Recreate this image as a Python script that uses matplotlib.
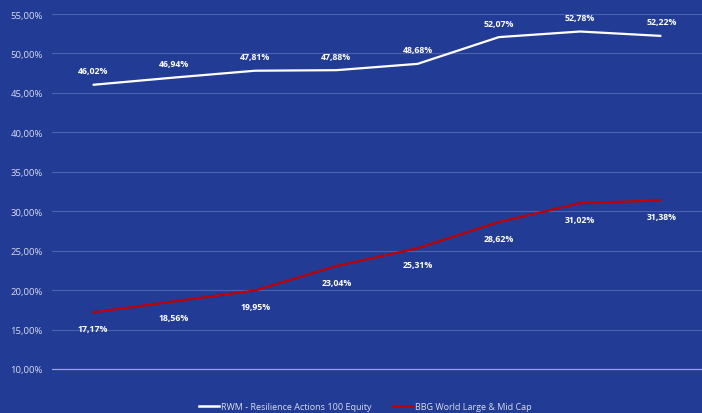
import matplotlib
matplotlib.use("Agg")
import matplotlib.pyplot as plt
from matplotlib.ticker import FuncFormatter, MultipleLocator
from matplotlib.lines import Line2D

categories = ["1", "2", "3", "4", "5", "6", "7", "8"]
rwm = [46.02, 46.94, 47.81, 47.88, 48.68, 52.07, 52.78, 52.22]
bbg = [17.17, 18.56, 19.95, 23.04, 25.31, 28.62, 31.02, 31.38]
series_names = ["RWM - Resilience Actions 100 Equity", "BBG World Large & Mid Cap"]

BG = "#223b95"
FONT = ["Liberation Sans Narrow", "Open Sans", "DejaVu Sans"]
plt.rcParams['font.family'] = FONT

fig = plt.figure(figsize=(7.02, 4.14), dpi=100, facecolor=BG)
ax = fig.add_axes([52/702, 44/414, 650/702, 355/414], facecolor=BG)

x = list(range(len(categories)))
ax.plot(x, rwm, color="white", lw=1.6, solid_capstyle="butt")
ax.plot(x, bbg, color="#c00000", lw=1.6, solid_capstyle="butt")

fmt = lambda v: f"{v:.2f}".replace(".", ",") + "%"
for xi, v in zip(x, rwm):
    ax.annotate(fmt(v), (xi, v), xytext=(0, 14), textcoords="offset pixels",
                ha="center", va="center", color="white", fontsize=6.3, fontweight="bold")
for xi, v in zip(x, bbg):
    ax.annotate(fmt(v), (xi, v), xytext=(0, -16), textcoords="offset pixels",
                ha="center", va="center", color="white", fontsize=6.3, fontweight="bold")

ax.set_xlim(-0.5, len(categories) - 0.5)
ax.set_ylim(10, 55)
ax.yaxis.set_major_locator(MultipleLocator(5))
ax.yaxis.set_major_formatter(FuncFormatter(lambda v, p: f"{v:.2f}".replace(".", ",") + "%"))
ax.grid(axis="y", color="#4c62b0", lw=0.8)
ax.set_axisbelow(True)
for s in ["top", "right", "left"]:
    ax.spines[s].set_visible(False)
ax.spines["bottom"].set_color("#98a3cf")
ax.spines["bottom"].set_linewidth(0.9)
ax.set_xticks([])
ax.tick_params(axis="y", length=0, pad=6.5, labelcolor="#d8dcee", labelsize=6.8)

handles = [Line2D([], [], color="white", lw=1.8), Line2D([], [], color="#c00000", lw=1.8)]
fig.legend(handles, series_names, loc="center left", bbox_to_anchor=(199/702, 1 - 408/414),
           ncol=2, frameon=False, fontsize=6.5, labelcolor="#d8dcee",
           handlelength=2.2, handletextpad=0.25, columnspacing=2.4, borderaxespad=0,
           borderpad=0)

fig.savefig("out.png", dpi=100, facecolor=BG)
